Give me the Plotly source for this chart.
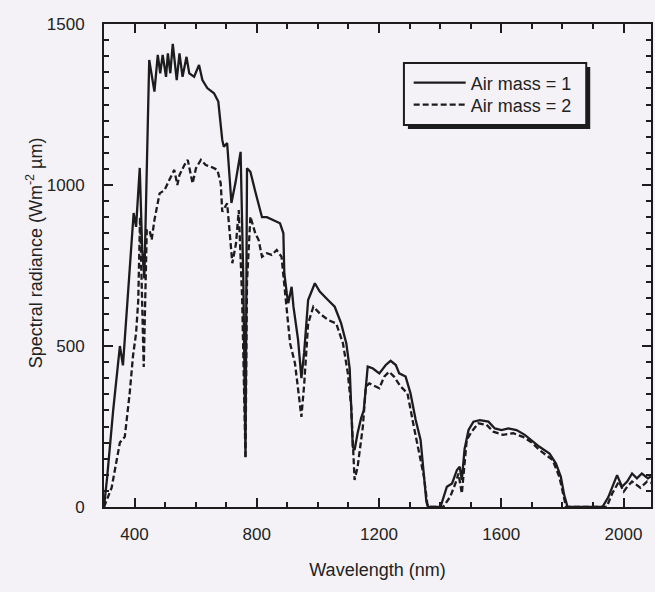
import plotly.graph_objects as go

# Air mass = 1 (solid)
wl_am1 = [300, 310, 330, 352, 362, 375, 397, 405, 417, 425, 432, 448, 465, 476, 484, 492, 503, 509, 517, 525,
          538, 547, 557, 570, 579, 595, 611, 622, 638, 660, 674, 687, 692, 703, 717, 730, 747, 756, 763, 768,
          779, 795, 817, 833, 855, 876, 887, 890, 898, 903, 914, 920, 935, 946, 955, 968, 990, 1006, 1033, 1055,
          1076, 1093, 1104, 1114, 1120, 1130, 1141, 1150, 1163, 1179, 1201, 1222, 1238, 1255, 1266, 1276, 1287, 1303, 1320, 1336,
          1347, 1355, 1360, 1401, 1422, 1439, 1455, 1464, 1471, 1480, 1493, 1509, 1530, 1558, 1579, 1601, 1623, 1650, 1677, 1700,
          1725, 1758, 1779, 1795, 1806, 1817, 1931, 1950, 1969, 1979, 1995, 2012, 2028, 2044, 2060, 2080, 2090]
rad_am1 = [0, 90, 300, 500, 440, 620, 913, 870, 1053, 800, 710, 1388, 1290, 1404, 1347, 1404, 1336, 1409, 1347, 1438,
           1326, 1409, 1336, 1398, 1347, 1336, 1373, 1326, 1301, 1285, 1259, 1140, 1119, 1130, 944, 1006, 1103, 700, 156, 1052,
           1041, 980, 900, 900, 891, 881, 850, 726, 664, 633, 684, 622, 520, 400, 480, 643, 695, 669, 643, 622,
           570, 508, 430, 187, 177, 230, 275, 300, 436, 431, 415, 441, 454, 441, 415, 410, 405, 353, 270, 208,
           105, 16, 0, 0, 63, 73, 115, 125, 84, 180, 239, 265, 270, 265, 244, 239, 244, 239, 224, 205,
           187, 166, 135, 94, 37, 0, 0, 30, 73, 99, 63, 79, 104, 89, 104, 89, 95]

# Air mass = 2 (dashed)
wl_am2 = [300, 325, 352, 368, 384, 395, 405, 412, 418, 424, 430, 440, 449, 456, 465, 482, 498, 514, 530, 540,
          547, 563, 574, 590, 601, 617, 633, 649, 671, 682, 687, 703, 720, 732, 741, 752, 763, 768, 779, 795,
          806, 817, 833, 849, 865, 881, 890, 898, 909, 925, 940, 946, 955, 968, 985, 1006, 1033, 1060, 1082, 1098,
          1109, 1120, 1130, 1147, 1157, 1168, 1201, 1217, 1233, 1249, 1271, 1293, 1314, 1331, 1347, 1358, 1362, 1410, 1433, 1450,
          1460, 1471, 1487, 1503, 1525, 1552, 1574, 1606, 1639, 1671, 1700, 1725, 1768, 1790, 1806, 1812, 1945, 1963, 1985, 2001,
          2012, 2028, 2055, 2077, 2090]
rad_am2 = [0, 60, 200, 218, 353, 470, 540, 640, 900, 700, 435, 860, 860, 830, 891, 974, 984, 1016, 1047, 1000,
           1031, 1062, 1078, 1005, 1052, 1078, 1062, 1057, 1047, 1005, 917, 943, 757, 819, 922, 650, 150, 700, 902, 850,
           829, 777, 788, 783, 798, 777, 695, 612, 508, 446, 330, 280, 380, 570, 622, 601, 581, 570, 508, 415,
           311, 84, 125, 249, 374, 384, 369, 405, 420, 405, 374, 353, 249, 166, 94, 10, 0, 0, 32, 73,
           104, 42, 208, 234, 260, 255, 234, 224, 229, 218, 200, 177, 146, 94, 22, 0, 0, 42, 79, 48,
           63, 79, 60, 79, 75]

x_ticks = [400, 800, 1200, 1600, 2000]
y_ticks = [0, 500, 1000, 1500]

BG = "#f4f2f7"
INK = "#1c1c1c"
TXT = "#222222"
FONT = "Liberation Sans, Arial, sans-serif"

fig = go.Figure()
fig.add_trace(go.Scatter(x=wl_am1, y=rad_am1, mode="lines", name="Air mass = 1", legend="legend",
                         line=dict(color=INK, width=2.3)))
fig.add_trace(go.Scatter(x=wl_am2, y=rad_am2, mode="lines", name="Air mass = 2", legend="legend2",
                         line=dict(color=INK, width=2.3, dash="6px,3px")))

axis_common = dict(showline=True, linecolor=INK, linewidth=2, mirror="ticks", ticks="inside",
                   tickcolor=INK, tickwidth=2, ticklen=9, showgrid=False, zeroline=False,
                   tickfont=dict(family=FONT, size=17, color=TXT))

fig.update_xaxes(range=[300, 2090], tickvals=x_ticks, ticktext=[str(v) for v in x_ticks],
                 minor=dict(tickmode="linear", tick0=0, dtick=100, ticks="inside", ticklen=5,
                            tickwidth=1.5, tickcolor=INK, showgrid=False),
                 title=dict(text="Wavelength (nm)", font=dict(family=FONT, size=18, color=TXT), standoff=20),
                 ticklabelstandoff=11, **axis_common)
fig.update_yaxes(range=[0, 1500], tickvals=y_ticks, ticktext=[str(v) for v in y_ticks],
                 minor=dict(tickmode="linear", tick0=0, dtick=50, ticks="inside", ticklen=5,
                            tickwidth=1.5, tickcolor=INK, showgrid=False),
                 ticklabelstandoff=14, **axis_common)

# y-axis title placed as an annotation
fig.add_annotation(text="Spectral radiance (Wm<sup>-2</sup> µm)", xref="paper", yref="paper",
                   x=-0.1257, y=0.526, xanchor="center", yanchor="middle", textangle=-90,
                   showarrow=False, font=dict(family=FONT, size=18, color=TXT))

# legend frame with drop shadow
fig.add_shape(type="rect", xref="paper", yref="paper", x0=0.5556, x1=0.8889, y0=0.7826, y1=0.9110,
              fillcolor=INK, line=dict(width=0), layer="below")
fig.add_shape(type="rect", xref="paper", yref="paper", x0=0.5483, x1=0.8816, y0=0.7909, y1=0.9193,
              fillcolor=BG, line=dict(color=INK, width=2), layer="below")

leg_common = dict(xanchor="left", yanchor="middle", bgcolor="rgba(0,0,0,0)", borderwidth=0,
                  font=dict(family=FONT, size=18, color=TXT), itemwidth=52)

fig.update_layout(
    width=655, height=592,
    margin=dict(l=104, r=2, t=24, b=85),
    paper_bgcolor=BG, plot_bgcolor=BG,
    font=dict(family=FONT, color=TXT),
    showlegend=True,
    legend=dict(x=0.557, y=0.8778, **leg_common),
    legend2=dict(x=0.557, y=0.8323, **leg_common),
)

fig.write_html("out.html", config={"displayModeBar": False},
               post_script="document.body.style.margin='0';document.body.style.background='%s';" % BG)
